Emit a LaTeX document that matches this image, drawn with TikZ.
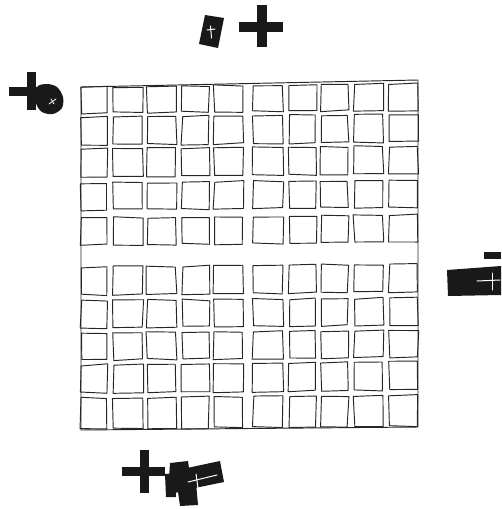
\documentclass[tikz,border=0pt]{standalone}
\begin{document}
\begin{tikzpicture}[x=1pt,y=-1pt,
  cell/.style={draw=black!85, line width=0.95pt, line join=round},
  blot/.style={fill=black!90},
  blotline/.style={draw=white, line width=1pt, line cap=round}]
\useasboundingbox (0,0) rectangle (501,509);
\pgfmathsetseed{7}
% outer frame
\draw[cell] (81,87) -- (418,80) -- (418,427) -- (81,430) -- cycle;
% grid of hand-drawn squares
\foreach \l/\r in {81/107, 113/143, 147/176, 182/209, 214/243, 253/283, 289/316, 321/348, 354/383, 389/418} {
  \foreach \tp/\bt in {87/113, 117/145, 149/177, 183/210, 218/245, 267/295, 301/328, 333/360, 365/393, 398/429} {
    \pgfmathsetmacro{\xa}{\l+rand*1.0}
    \pgfmathsetmacro{\ya}{\tp-0.009*(\l-81)+rand*1.0}
    \pgfmathsetmacro{\xb}{\r+rand*1.0}
    \pgfmathsetmacro{\yb}{\tp-0.009*(\r-81)+rand*1.0}
    \pgfmathsetmacro{\xc}{\r+rand*1.0}
    \pgfmathsetmacro{\yc}{\bt-0.009*(\r-81)+rand*1.0}
    \pgfmathsetmacro{\xd}{\l+rand*1.0}
    \pgfmathsetmacro{\yd}{\bt-0.009*(\l-81)+rand*1.0}
    \draw[cell] (\xa,\ya) -- (\xb,\yb) -- (\xc,\yc) -- (\xd,\yd) -- cycle;
  }
}
% top marks
\fill[blot] (205,15) -- (224,18) -- (218,48) -- (199,44) -- cycle;
\draw[blotline] (210.5,26) -- (211.5,38);
\draw[blotline] (207,30) -- (215,29);
\fill[blot] (257,5) rectangle (267,47);
\fill[blot] (239,22) rectangle (283,32);
% left marks
\fill[blot] (27,72) rectangle (36,110);
\fill[blot] (9,87) rectangle (50,96);
\fill[blot] plot[smooth cycle] coordinates {(37,87) (47,84) (57,87) (63,97) (62,108) (53,114) (42,112) (36,103)};
\draw[blotline, line width=0.8pt] (49,104) -- (56,99);
\draw[blotline, line width=0.8pt] (51,99) -- (54,104);
% right marks
\fill[blot] (484,252) rectangle (501,259);
\fill[blot] (447,270) -- (501,266) -- (501,295) -- (448,296) -- cycle;
\draw[blotline] (477,281) -- (500,280);
\draw[blotline] (492,273) -- (492,290);
% bottom marks
\fill[blot] (140,450) rectangle (149,493);
\fill[blot] (122,467) rectangle (165,476);
\fill[blot] (170,463) -- (188,461) -- (192,490) -- (168,494) -- cycle;
\fill[blot] (165,474) -- (175,473) -- (176,497) -- (166,497) -- cycle;
\fill[blot] (177,485) -- (196,483) -- (198,505) -- (180,506) -- cycle;
\fill[blot] (187,468) -- (220,461) -- (224,482) -- (190,489) -- cycle;
\draw[blotline] (188,482) -- (217,475);
\draw[blotline] (196,474) -- (198,488);
\end{tikzpicture}
\end{document}
